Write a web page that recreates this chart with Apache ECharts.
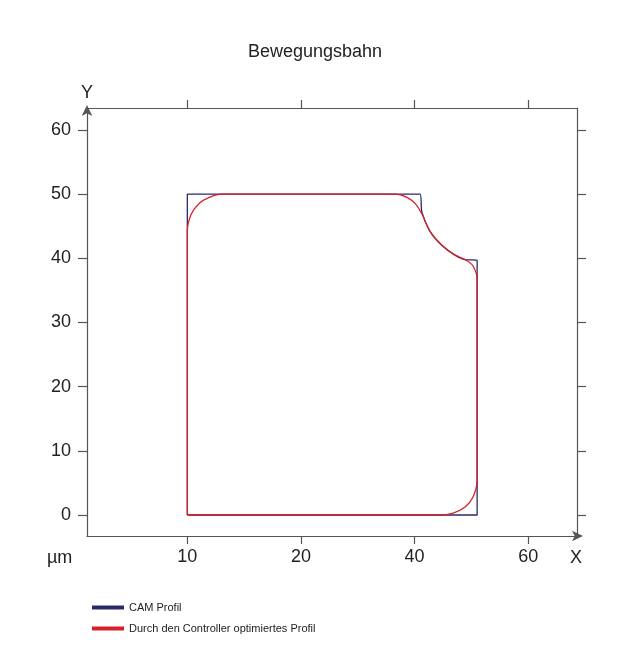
<!DOCTYPE html>
<html>
<head>
<meta charset="utf-8">
<script src="https://cdn.jsdelivr.net/npm/echarts@6/dist/echarts.min.js"></script>
<style>
  html, body { margin: 0; padding: 0; background: #fff; }
  #chart { width: 630px; height: 665px; }
</style>
</head>
<body>
<div id="chart"></div>
<script>
// x is in tick-slot units (1..4 = the labelled ticks), y in µm
var xTickPos = [1, 2, 3, 4]
var xTickLabels = ['10', '20', '40', '60']
var yTicks = [0, 10, 20, 30, 40, 50, 60]

// CAM profile
var camX = [1, 1, 3.048, 3.065, 3.136, 3.242, 3.357, 3.445, 3.551, 3.551, 1]
var camY = [0, 50, 50, 47.2, 44.2, 42.0, 40.5, 39.8, 39.7, 0, 0]

// controller-optimised profile
var optX = [1, 1, 1.035, 1.106, 1.194, 1.3, 2.827, 2.933, 3.012, 3.074, 3.136, 3.242, 3.357, 3.454, 3.515, 3.551, 3.551, 3.515, 3.445, 3.339, 3.224, 1]
var optY = [0, 44.2, 46.9, 48.6, 49.5, 50, 50, 49.5, 48.4, 46.6, 44.2, 42.0, 40.5, 39.7, 38.8, 36.7, 5.5, 2.8, 1.25, 0.3, 0, 0]

function zip(a, b) {
    var out = []
    for (var i = 0; i < a.length; i++) out.push([a[i], b[i]])
    return out
}

var lineCol = '#555'
var font = 'Liberation Sans'
var chart = echarts.init(document.getElementById('chart'))

var tickStyle = {color: lineCol, width: 1.2}
var plainLine = {onZero: false, lineStyle: tickStyle}
var arrowLine = {onZero: false, symbol: ['none', 'arrow'], symbolSize: [8, 11], symbolOffset: [0, 6], lineStyle: tickStyle}

chart.setOption({
    animation: false,
    title: {
        text: 'Bewegungsbahn', left: 'center', top: 38,
        textStyle: {fontFamily: font, fontWeight: 'normal', fontSize: 18, color: '#222'}
    },
    grid: {left: 87, right: 53, top: 108, bottom: 129},
    legend: {
        orient: 'vertical', left: 87, top: 597, itemGap: 10,
        itemWidth: 32, itemHeight: 4, icon: 'rect',
        textStyle: {fontFamily: font, fontSize: 11, color: '#222'},
        data: ['CAM Profil', 'Durch den Controller optimiertes Profil']
    },
    xAxis: [
        {
            type: 'value', min: 0.117, max: 4.43, position: 'bottom',
            splitLine: {show: false}, axisLine: arrowLine,
            axisTick: {customValues: xTickPos, length: 8, lineStyle: tickStyle},
            axisLabel: {
                customValues: xTickPos, margin: 12, fontFamily: font, fontSize: 18, color: '#222',
                formatter: function (v) { return xTickLabels[xTickPos.indexOf(Math.round(v))] }
            }
        },
        {
            type: 'value', min: 0.117, max: 4.43, position: 'top',
            splitLine: {show: false}, axisLine: plainLine,
            axisTick: {customValues: xTickPos, length: 8, lineStyle: tickStyle},
            axisLabel: {show: false}
        }
    ],
    yAxis: [
        {
            type: 'value', min: -3.27, max: 63.43, position: 'left',
            splitLine: {show: false},
            axisLine: Object.assign({}, arrowLine, {symbolOffset: [0, 3]}),
            axisTick: {customValues: yTicks, length: 9, lineStyle: tickStyle},
            axisLabel: {customValues: yTicks, margin: 16, verticalAlign: 'middle', padding: [0, 0, 10, 0],
                fontFamily: font, fontSize: 18, color: '#222'}
        },
        {
            type: 'value', min: -3.27, max: 63.43, position: 'right',
            splitLine: {show: false}, axisLine: plainLine,
            axisTick: {customValues: yTicks, length: 9, lineStyle: tickStyle},
            axisLabel: {show: false}
        }
    ],
    graphic: [
        {type: 'text', left: 81, top: 84, style: {text: 'Y', font: '18px "Liberation Sans"', fill: '#222'}},
        {type: 'text', left: 570, top: 549, style: {text: 'X', font: '18px "Liberation Sans"', fill: '#222'}},
        {type: 'text', left: 47, top: 549, style: {text: 'µm', font: '18px "Liberation Sans"', fill: '#222'}}
    ],
    series: [
        {
            name: 'CAM Profil', type: 'line', data: zip(camX, camY),
            showSymbol: false, smooth: 0.3, color: '#2a2a6a',
            lineStyle: {width: 1.3, color: '#2a2a6a'}
        },
        {
            name: 'Durch den Controller optimiertes Profil', type: 'line', data: zip(optX, optY),
            showSymbol: false, smooth: 0.3, color: '#d8202a',
            lineStyle: {width: 1.3, color: '#d8202a'}
        }
    ]
})
</script>
</body>
</html>
